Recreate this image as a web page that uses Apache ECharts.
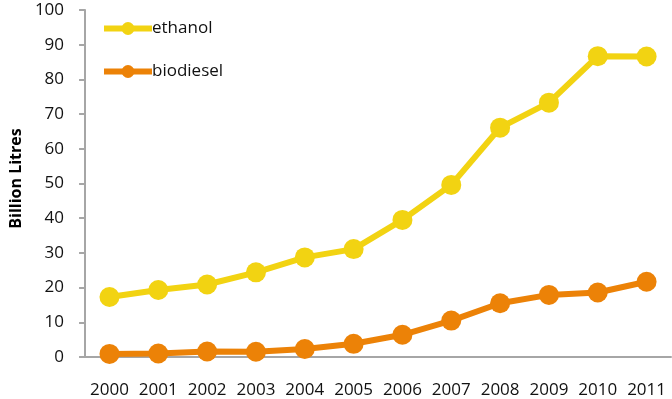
<!DOCTYPE html>
<html>
<head>
<meta charset="utf-8">
<script src="https://cdn.jsdelivr.net/npm/echarts@6/dist/echarts.min.js"></script>
<style>
  html, body { margin: 0; padding: 0; background: #fff; }
  #chart { width: 672px; height: 399px; }
</style>
</head>
<body>
<div id="chart"></div>
<script>
// Global biofuel production, billion litres
const years = ['2000','2001','2002','2003','2004','2005','2006','2007','2008','2009','2010','2011'];
const ethanol = [17.3, 19.3, 20.9, 24.4, 28.7, 31.1, 39.5, 49.6, 66.1, 73.3, 86.7, 86.6];
const biodiesel = [0.9, 1.0, 1.6, 1.5, 2.3, 3.8, 6.4, 10.5, 15.5, 17.9, 18.6, 21.7];
const yTicks = { min: 0, max: 100, interval: 10 };

const font = '"Open Sans", "Liberation Sans", sans-serif';
const chart = echarts.init(document.getElementById('chart'), null, { renderer: 'canvas' });

chart.setOption({
  animation: false,
  backgroundColor: '#ffffff',
  grid: { left: 79, right: 1, top: 10, bottom: 42 },
  legend: {
    orient: 'vertical',
    left: 101,
    top: 20,
    padding: 0,
    itemWidth: 48,
    itemHeight: 16,
    itemGap: 26,
    lineStyle: { width: 6 },
    textStyle: { fontFamily: font, fontSize: 17, color: '#111', padding: [0, 0, 0, -5] },
    data: ['ethanol', 'biodiesel']
  },
  xAxis: {
    type: 'category',
    data: years,
    boundaryGap: true,
    axisLine: { lineStyle: { color: '#a6a6a6', width: 2 } },
    axisTick: { show: false },
    axisLabel: { interval: 0, fontFamily: font, fontSize: 17, color: '#111', margin: 25 }
  },
  yAxis: {
    type: 'value',
    min: yTicks.min,
    max: yTicks.max,
    interval: yTicks.interval,
    name: 'Billion Litres',
    nameLocation: 'middle',
    nameRotate: 90,
    nameGap: 53,
    nameTextStyle: { fontFamily: font, fontSize: 16, fontWeight: 'bold', color: '#000', padding: [0, 0, 0, 10] },
    axisLine: { show: true, lineStyle: { color: '#a6a6a6', width: 2 } },
    axisTick: { show: true, length: 6, lineStyle: { color: '#a6a6a6', width: 2 } },
    splitLine: { show: false },
    axisLabel: { fontFamily: font, fontSize: 17, color: '#111', margin: 21 }
  },
  series: [
    {
      name: 'ethanol',
      type: 'line',
      data: ethanol,
      symbol: 'circle',
      symbolSize: 20,
      color: '#f2d312',
      lineStyle: { width: 6, color: '#f2d312' },
      itemStyle: { color: '#f2d312' }
    },
    {
      name: 'biodiesel',
      type: 'line',
      data: biodiesel,
      symbol: 'circle',
      symbolSize: 20,
      color: '#ec8207',
      lineStyle: { width: 6, color: '#ec8207' },
      itemStyle: { color: '#ec8207' }
    }
  ]
});
</script>
</body>
</html>
